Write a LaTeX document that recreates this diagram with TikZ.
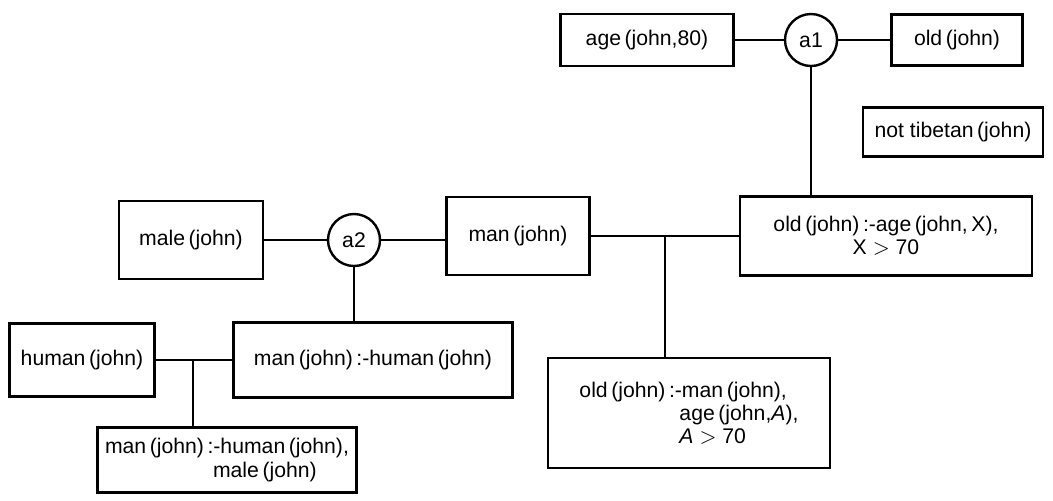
\documentclass[tikz,border=0pt]{standalone}
\usepackage{fontspec}
\setmainfont{Liberation Sans}
\usepackage{tikz}

\begin{document}
\begin{tikzpicture}[x=0.5pt, y=-0.5pt, line width=1.2pt,
        every node/.style={draw, font=\fontsize{10.6}{11.6}\selectfont, inner sep=0pt},
        fact/.style={rectangle, align=center},
        rule/.style={rectangle, align=left},
        arg/.style={circle, minimum size=26pt}]
    \useasboundingbox (0,0) rectangle (1053,500);

    % top: a1
    \node[fact, minimum width=86.5pt, minimum height=26pt] (age) at (647,40) {age\,(john,80)};
    \node[arg] (a1) at (811,40) {a1};
    \node[fact, minimum width=65.5pt, minimum height=25.5pt] (old) at (957,40) {old\,(john)};
    \node[fact, minimum width=90pt, minimum height=24.5pt] (tib) at (953,132) {not tibetan\,(john)};
    \node[fact, minimum width=146pt, minimum height=39.5pt] (oldage) at (886,236)
        {old\,(john)\,:-age\,(john,\,X),\\ X $>$ 70};

    % middle: a2
    \node[fact, minimum width=72pt, minimum height=39pt] (male) at (191,240) {male\,(john)};
    \node[arg] (a2) at (354,240) {a2};
    \node[fact, minimum width=71.5pt, minimum height=39pt] (man) at (518,236) {man\,(john)};
    \node[rule, minimum width=141pt, minimum height=55pt] (oldman) at (689,413)
        {old\,(john)\,:-man\,(john),\\
         \hspace*{50pt}age\,(john,\textit{A}),\\
         \hspace*{50pt}\textit{A} $>$ 70};

    % bottom left
    \node[fact, minimum width=72.5pt, minimum height=36.5pt] (human) at (82,360) {human\,(john)};
    \node[fact, minimum width=139.5pt, minimum height=37.5pt] (manhum) at (373,360)
        {man\,(john)\,:-human\,(john)};
    \node[rule, minimum width=129.5pt, minimum height=32.5pt] (manhm) at (227,460)
        {man\,(john)\,:-human\,(john),\\
         \hspace*{54pt}male\,(john)};

    \coordinate (j1) at (665,236);
    \coordinate (j2) at (193,360);

    \draw (age) -- (a1);
    \draw (a1) -- (old);
    \draw (a1.south) -- (a1.south |- oldage.north);
    \draw (male) -- (a2);
    \draw (a2) -- (a2 -| man.west);
    \draw (a2.south) -- (a2.south |- manhum.north);
    \draw (man) -- (oldage);
    \draw (j1) -- (j1 |- oldman.north);
    \draw (human) -- (manhum);
    \draw (j2) -- (j2 |- manhm.north);
\end{tikzpicture}
\end{document}
